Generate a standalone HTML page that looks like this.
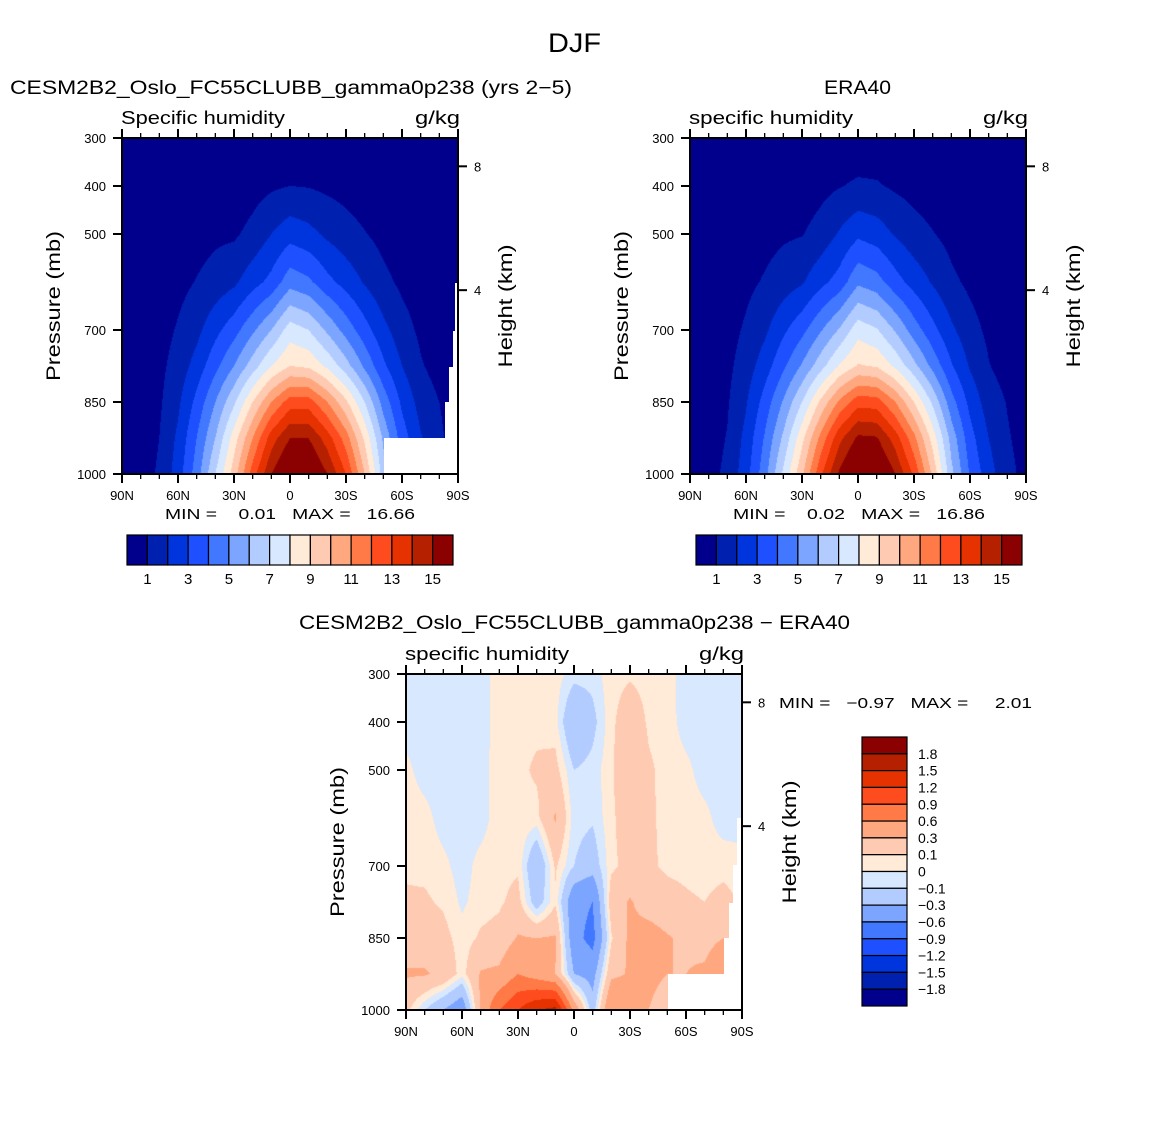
<!DOCTYPE html>
<html><head><meta charset="utf-8">
<style>
body{margin:0;background:#fff;}
#root{position:relative;width:1150px;height:1148px;overflow:hidden;background:#fff;font-family:"Liberation Sans","DejaVu Sans",sans-serif;}
canvas{position:absolute;}
svg{position:absolute;left:0;top:0;}
text{font-family:"Liberation Sans","DejaVu Sans",sans-serif;fill:#000;white-space:pre;}
</style></head>
<body>
<div id="root">
<canvas id="c1" width="336" height="336" style="left:122px;top:138px"></canvas>
<canvas id="c2" width="336" height="336" style="left:690px;top:138px"></canvas>
<canvas id="c3" width="336" height="336" style="left:406px;top:674px"></canvas>
<svg id="svg" width="1150" height="1148"></svg>
</div>
<script>
const lats=[90,80,70,60,50,40,30,20,10,0,-10,-20,-30,-40,-50,-60,-70,-80,-90];
const pLevels=[1000,925,850,775,700,600,500,400,300];
const qModel=[
[.4,.35,.3,.25,.2,.12,.07,.03,.01],
[.7,.6,.5,.4,.3,.2,.1,.05,.02],
[1.1,1.0,.85,.75,.6,.4,.22,.1,.03],
[2.5,2.2,1.8,1.4,1.1,.7,.4,.15,.05],
[4.5,4,3.3,2.4,1.7,1.05,.6,.25,.07],
[7,6,5,3.7,2.7,1.4,.8,.3,.08],
[9.5,8.5,6.8,5,3.6,1.8,.85,.35,.1],
[12.5,11,9,6.5,4.8,2.6,1.3,.6,.15],
[15,13.5,11,8,6,3.3,2,.85,.25],
[16.6,15,12.5,9,7.5,4.6,2.6,1.0,.3],
[16.5,15,12.5,8.8,7,4.2,2.3,.95,.28],
[15,13.5,11,7.8,5.8,3.3,1.8,.8,.2],
[13,11.5,9.2,6.4,4.6,2.6,1.4,.65,.15],
[10,8.8,7,4.8,3.4,1.9,1.05,.45,.12],
[6.5,5.8,4.6,3.2,2.3,1.25,.7,.3,.08],
[4,3.5,2.8,2,1.4,.8,.45,.2,.05],
[2.5,2.1,1.6,1.1,.8,.5,.3,.1,.03],
[1.3,1.15,1.0,.6,.4,.25,.15,.06,.02],
[.7,.6,.5,.35,.25,.15,.1,.04,.01]];
const qERA=[
[.4,.35,.3,.25,.2,.12,.07,.03,.01],
[.7,.6,.5,.4,.3,.2,.1,.05,.02],
[1.2,1.05,.9,.75,.6,.4,.22,.1,.03],
[2.6,2.3,1.9,1.5,1.15,.75,.42,.16,.05],
[4.6,4.1,3.4,2.5,1.8,1.1,.65,.27,.07],
[7.2,6.2,5.1,3.8,2.8,1.5,.85,.33,.08],
[9.8,8.7,7,5.1,3.7,1.9,.95,.4,.1],
[12.8,11.3,9.2,6.6,4.9,2.7,1.4,.7,.17],
[15.2,13.7,11.2,8.1,6.1,3.4,2.1,.95,.3],
[16.8,15.2,12.6,9.1,7.6,4.8,2.8,1.15,.35],
[16.6,15.1,12.5,8.9,7.1,4.4,2.5,1.1,.32],
[15,13.5,11,7.8,5.9,3.4,1.9,.85,.22],
[12.8,11.3,9,6.3,4.5,2.6,1.4,.65,.15],
[9.8,8.6,6.8,4.7,3.3,1.9,1.05,.45,.12],
[6.3,5.6,4.4,3.1,2.2,1.2,.7,.3,.08],
[3.9,3.4,2.7,1.9,1.35,.8,.45,.2,.05],
[2.4,2.0,1.5,1.05,.8,.5,.3,.1,.03],
[1.3,1.1,.95,.6,.4,.25,.15,.06,.02],
[.7,.6,.5,.35,.25,.15,.1,.04,.01]];
const qDiff=[
[.15,.32,.2,.12,.08,.06,.03,-.05,-.05],
[-.1,.32,.2,.12,.07,.04,-.05,-.05,-.05],
[-.3,.25,.15,.08,.03,-.05,-.05,-.05,-.05],
[-.5,.04,.04,-.02,-.05,-.05,-.05,-.05,-.05],
[.35,.32,.12,.05,.04,-.05,-.05,-.05,-.05],
[.9,.35,.15,.08,.06,.06,.06,.05,.05],
[1.2,.6,.32,.15,.08,.07,.07,.06,.05],
[1.5,.45,.3,-.2,-.3,.06,.12,.07,.06],
[1.6,.3,.32,.08,.12,.32,.15,.04,.05],
[.5,-.3,-.5,-.5,-.1,-.05,-.1,-.3,-.05],
[-.2,-.4,-.7,-.6,-.2,-.08,-.05,-.15,-.05],
[.6,.25,.08,.2,.07,.07,.07,.07,.06],
[.5,.32,.35,.32,.15,.2,.3,.2,.08],
[.3,.35,.4,.2,.12,.12,.12,.08,.06],
[.2,.3,.32,.15,.08,.07,.06,.05,.04],
[.3,.3,.25,.12,.07,.05,.03,-.05,-.05],
[.4,.35,.2,.1,.05,.03,-.05,-.05,-.05],
[.6,.6,.3,.15,.06,-.05,-.05,-.05,-.05],
[.2,.2,.15,.08,.04,-.05,-.05,-.05,-.05]];
const qLevels=[1,2,3,4,5,6,7,8,9,10,11,12,13,14,15];
const qLabels=["1","3","5","7","9","11","13","15"];
const diffLevels=[-1.8,-1.5,-1.2,-0.9,-0.6,-0.3,-0.1,0,0.1,0.3,0.6,0.9,1.2,1.5,1.8];
const diffLabels=["\u22121.8","\u22121.5","\u22121.2","\u22120.9","\u22120.6","\u22120.3","\u22120.1","0","0.1","0.3","0.6","0.9","1.2","1.5","1.8"];
const palette=["#00008c","#0020b0","#0034dc","#1e50ff","#4178ff","#7ca5ff","#b3ccff","#d8e8ff","#ffebd8","#ffcab2","#ffa880","#ff7a46","#ff4c1e","#e63200","#b42000","#8b0000"];
const latTicks=[90,60,30,0,-30,-60,-90];
const latTickLabels=["90N","60N","30N","0","30S","60S","90S"];
const pTicks=[300,400,500,700,850,1000];
const hTicks=[{p:359,l:"8"},{p:617,l:"4"}];

const W=336,H=336;
function hex(c){return [parseInt(c.substr(1,2),16),parseInt(c.substr(3,2),16),parseInt(c.substr(5,2),16)];}
const palRGB=palette.map(hex);
function latX(lat){return (90-lat)/180*W;}
function pY(p){return (p-300)/700*H;}
function interp(grid,lat,p){
  let fi=(90-lat)/10; let i0=Math.min(Math.floor(fi),lats.length-2); let ti=fi-i0;
  let k=0; while(k<pLevels.length-2 && p<pLevels[k+1]) k++;
  let tk=(pLevels[k]-p)/(pLevels[k]-pLevels[k+1]);
  const a=grid[i0][k]*(1-tk)+grid[i0][k+1]*tk;
  const b=grid[i0+1][k]*(1-tk)+grid[i0+1][k+1]*tk;
  return a*(1-ti)+b*ti;
}
function render(id,grid,levels){
  const ctx=document.getElementById(id).getContext('2d');
  const img=ctx.createImageData(W,H);
  for(let y=0;y<H;y++){const p=300+(y+0.5)/H*700;
    for(let x=0;x<W;x++){const lat=90-(x+0.5)/W*180;
      const v=interp(grid,lat,p);let b=0;while(b<levels.length&&v>=levels[b])b++;
      const c=palRGB[b];const o=(y*W+x)*4;img.data[o]=c[0];img.data[o+1]=c[1];img.data[o+2]=c[2];img.data[o+3]=255;}}
  ctx.putImageData(img,0,0);
}
render('c1',qModel,qLevels);
render('c2',qERA,qLevels);
render('c3',qDiff,diffLevels);

const svg=document.getElementById('svg');const NS="http://www.w3.org/2000/svg";
function el(tag,attrs,parent){const e=document.createElementNS(NS,tag);for(const k in attrs)e.setAttribute(k,attrs[k]);(parent||svg).appendChild(e);return e;}
function txt(x,y,s,size,anchor,name,rot,len){const t=el('text',{x:x,y:y,'font-size':size,'text-anchor':anchor||'start'});
  if(rot)t.setAttribute('transform','rotate(-90 '+x+' '+y+')');
  if(len){t.setAttribute('textLength',len);t.setAttribute('lengthAdjust','spacingAndGlyphs');}
  t.textContent=s;
  
  
  return t;}

function panel(x0,y0,prefix,leftTitle,unitTitle,missing){
  const g=el('g',{});
  
  
  if(missing){const pg=el('polygon',{points:missing.map(q=>(q[0])+','+(q[1])).join(' '),fill:'#fff'},g);
    
    }
  el('rect',{x:x0,y:y0,width:W,height:H,fill:'none',stroke:'#000','stroke-width':2},g);
  for(let lat=90;lat>=-90;lat-=10){const x=x0+latX(lat);const major=lat%30===0;const L=major?9:5;
    el('line',{x1:x,y1:y0+H,x2:x,y2:y0+H+L,stroke:'#000','stroke-width':major?2:1.3},g);
    el('line',{x1:x,y1:y0,x2:x,y2:y0-L,stroke:'#000','stroke-width':major?2:1.3},g);}
  latTicks.forEach((lat,i)=>{txt(x0+latX(lat),y0+H+26,latTickLabels[i],13,'middle',prefix+'-x-tick-label');});
  pTicks.forEach(p=>{const y=y0+pY(p);el('line',{x1:x0,y1:y,x2:x0-9,y2:y,stroke:'#000','stroke-width':2},g);
    txt(x0-16,y+5,String(p),13,'end',prefix+'-y-tick-label');});
  hTicks.forEach(h=>{const y=y0+pY(h.p);el('line',{x1:x0+W,y1:y,x2:x0+W+9,y2:y,stroke:'#000','stroke-width':2},g);
    txt(x0+W+16,y+5,h.l,13,'start',prefix+'-height-tick-label');});
  txt(x0-62,y0+H/2,'Pressure (mb)',19,'middle',prefix+'-y-axis-title',true,150);
  txt(x0+W+54,y0+H/2,'Height (km)',19,'middle',prefix+'-height-axis-title',true,123);
  txt(x0-1,y0-14,leftTitle,18,'start',prefix+'-variable-label',false,164);
  txt(x0+W+2,y0-14,unitTitle,18,'end',prefix+'-units-label',false,45);
}
function hbar(x0,y0,prefix){
  const bw=326/16;
  for(let i=0;i<16;i++){const r=el('rect',{x:x0+i*bw,y:y0,width:bw,height:30,fill:palette[i],stroke:'#000','stroke-width':1.2});
    
    }
  qLabels.forEach((l,i)=>{txt(x0+(2*i+1)*bw,y0+49,l,15,'middle',prefix+'-colorbar-label');});
}
txt(548,52,'DJF',27,'start','figure-title',false,53);
txt(10,94,'CESM2B2_Oslo_FC55CLUBB_gamma0p238 (yrs 2\u22125)',19,'start','model-panel-title',false,562);
txt(824,94,'ERA40',19,'start','era40-panel-title',false,67);
txt(299,629,'CESM2B2_Oslo_FC55CLUBB_gamma0p238 \u2212 ERA40',19,'start','difference-panel-title',false,551);
panel(122,138,'model','Specific humidity','g/kg',[[458,283],[455,283],[455,331],[453,331],[453,367],[449,367],[449,402],[445,402],[445,438],[384,438],[384,474],[458,474]]);
panel(690,138,'era40','specific humidity','g/kg',null);
panel(406,674,'diff','specific humidity','g/kg',[[742,818],[737,818],[737,865],[733,865],[733,903],[729,903],[729,938],[724,938],[724,974],[668,974],[668,1010],[742,1010]]);
txt(165,519,'MIN =    0.01   MAX =   16.66',15,'start','model-min-max',false,250);
txt(733,519,'MIN =    0.02   MAX =   16.86',15,'start','era40-min-max',false,252);
txt(779,708,'MIN =   \u22120.97   MAX =     2.01',15,'start','diff-min-max',false,253);
hbar(127,535,'model');
hbar(696,535,'era40');
const bh=(1006-737)/16;
for(let i=0;i<16;i++){const r=el('rect',{x:862,y:737+i*bh,width:45,height:bh,fill:palette[15-i],stroke:'#000','stroke-width':1.2});
  
  }
for(let i=0;i<15;i++){txt(918,737+(i+1)*bh+5,diffLabels[14-i],14,'start','diff-colorbar-label');}
</script>
</body></html>
